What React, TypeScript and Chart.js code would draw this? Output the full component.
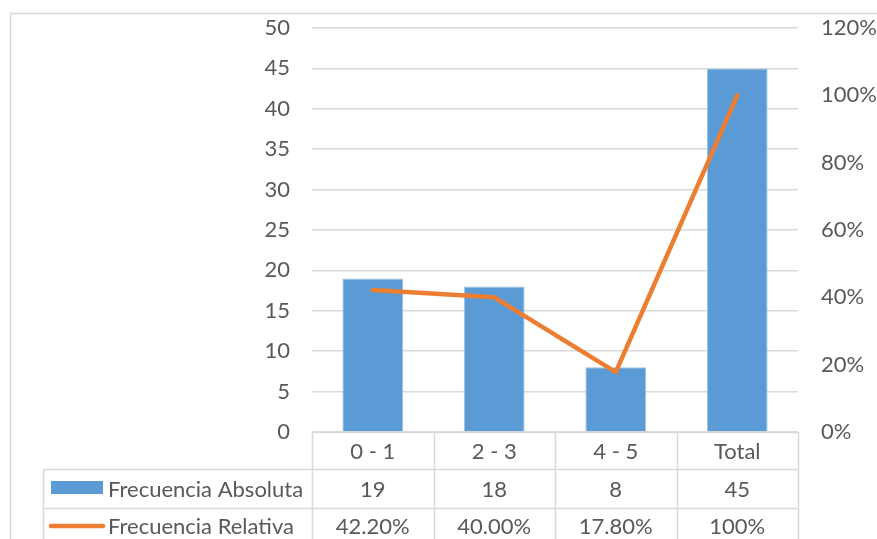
import React, { useEffect, useRef } from "react";
import { Chart, registerables } from "chart.js";

Chart.register(...registerables);

const categories = ["0 - 1", "2 - 3", "4 - 5", "Total"];
const absoluta = [19, 18, 8, 45];
const relativa = [42.2, 40.0, 17.8, 100];
const absolutaLabels = ["19", "18", "8", "45"];
const relativaLabels = ["42.20%", "40.00%", "17.80%", "100%"];
const seriesNames = ["Frecuencia Absoluta", "Frecuencia Relativa"];

const FONT = "Lato, 'Open Sans', sans-serif";
const FSIZE = 22;
const TEXT = "#595959";
const GRID = "#d9d9d9";
const BLUE = "#5B9BD5";
const ORANGE = "#ED7D31";

const tablePlugin = {
  id: "dataTable",
  afterDraw(chart: any) {
    const ctx = chart.ctx as CanvasRenderingContext2D;
    const area = chart.chartArea;
    const xs = chart.scales.x;
    const H = chart.height;
    const W = chart.width;
    ctx.save();
    ctx.strokeStyle = GRID;
    ctx.lineWidth = 1.5;
    ctx.beginPath();
    ctx.moveTo(10.5, H);
    ctx.lineTo(10.5, 13.5);
    ctx.lineTo(W, 13.5);
    ctx.stroke();

    const left = area.left;
    const right = area.right;
    const n = categories.length;
    const colW = (right - left) / n;
    const y0 = area.bottom;
    const y1 = y0 + 37;
    const y2 = y1 + 39;
    const legendLeft = 43;

    ctx.strokeStyle = GRID;
    ctx.lineWidth = 1.5;
    ctx.beginPath();
    ctx.moveTo(left, Math.round(y0) + 0.5);
    ctx.lineTo(right, Math.round(y0) + 0.5);
    ctx.moveTo(legendLeft, y1 + 0.5);
    ctx.lineTo(right, y1 + 0.5);
    ctx.moveTo(legendLeft, y2 + 0.5);
    ctx.lineTo(right, y2 + 0.5);
    ctx.moveTo(legendLeft + 0.5, y1);
    ctx.lineTo(legendLeft + 0.5, H);
    for (let i = 0; i <= n; i++) {
      const x = Math.round(left + i * colW) + 0.5;
      ctx.moveTo(x, y0);
      ctx.lineTo(x, H);
    }
    ctx.stroke();

    ctx.fillStyle = TEXT;
    ctx.font = `${FSIZE}px ${FONT}`;
    ctx.textAlign = "center";
    ctx.textBaseline = "middle";
    for (let i = 0; i < n; i++) {
      const cx = xs.getPixelForValue(i);
      ctx.fillText(categories[i], cx, (y0 + y1) / 2 + 1);
      ctx.fillText(absolutaLabels[i], cx, (y1 + y2) / 2 + 1);
      ctx.fillText(relativaLabels[i], cx, y2 + 19);
    }

    ctx.fillStyle = BLUE;
    ctx.fillRect(51, y1 + 12, 52, 13);
    ctx.strokeStyle = ORANGE;
    ctx.lineWidth = 4.5;
    ctx.lineCap = "round";
    ctx.beginPath();
    ctx.moveTo(51, y2 + 18);
    ctx.lineTo(103, y2 + 18);
    ctx.stroke();

    ctx.fillStyle = TEXT;
    ctx.textAlign = "left";
    ctx.fillText(seriesNames[0], 108, (y1 + y2) / 2 + 1);
    ctx.fillText(seriesNames[1], 108, y2 + 19);
    ctx.restore();
  },
};

export default function App() {
  const ref = useRef<HTMLCanvasElement>(null);
  useEffect(() => {
    const chart = new Chart(ref.current!, {
      type: "bar",
      data: {
        labels: categories,
        datasets: [
          {
            type: "line",
            label: seriesNames[1],
            data: relativa,
            yAxisID: "y1",
            borderColor: ORANGE,
            backgroundColor: ORANGE,
            borderWidth: 4.5,
            pointRadius: 0,
            borderCapStyle: "round",
            borderJoinStyle: "round",
            tension: 0,
            order: 0,
          } as any,
          {
            type: "bar",
            label: seriesNames[0],
            data: absoluta,
            yAxisID: "y",
            backgroundColor: BLUE,
            borderColor: "#9DC3E6",
            borderWidth: 1,
            categoryPercentage: 1,
            barPercentage: 0.5,
            order: 1,
          },
        ],
      },
      options: {
        animation: false,
        responsive: false,
        layout: { padding: { left: 0, right: 0, top: 28, bottom: 107 } },
        plugins: { legend: { display: false }, tooltip: { enabled: false } },
        scales: {
          x: { display: false, offset: true, grid: { display: false } },
          y: {
            position: "left",
            min: 0,
            max: 50,
            ticks: {
              stepSize: 5,
              padding: 22,
              color: TEXT,
              font: { family: FONT, size: FSIZE },
            },
            grid: { color: GRID, lineWidth: 1.5, drawTicks: false, tickLength: 0 },
            border: { display: false },
            afterFit: (s: any) => {
              s.width = 312;
              s.paddingTop = 0;
              s.paddingBottom = 0;
            },
          },
          y1: {
            position: "right",
            min: 0,
            max: 120,
            ticks: {
              stepSize: 20,
              padding: 23,
              color: TEXT,
              font: { family: FONT, size: FSIZE },
              callback: (v: any) => `${v}%`,
            },
            grid: { display: false, drawTicks: false, tickLength: 0 },
            border: { display: false },
            afterFit: (s: any) => {
              s.width = 79;
              s.paddingTop = 0;
              s.paddingBottom = 0;
            },
          },
        },
      },
      plugins: [tablePlugin],
    });
    return () => chart.destroy();
  }, []);
  return (
    <div
      style={{
        position: "fixed",
        left: 0,
        top: 0,
        width: 877,
        height: 539,
        overflow: "hidden",
        background: "#fff",
      }}
    >
      <canvas ref={ref} width={877} height={539} style={{ display: "block" }} />
    </div>
  );
}
